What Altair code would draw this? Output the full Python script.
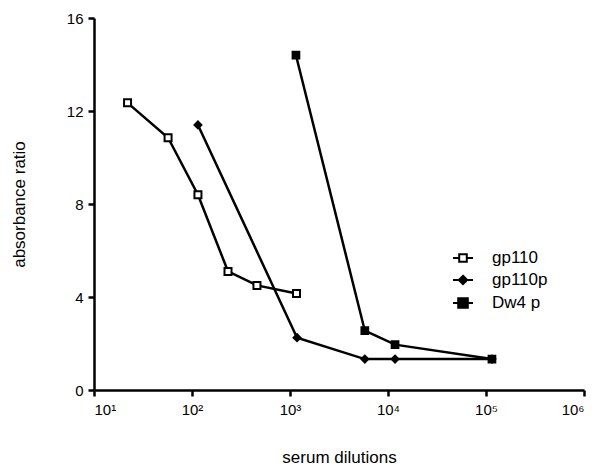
import altair as alt
import pandas as pd

names = ["gp110", "gp110p", "Dw4 p"]

gp110_x = [22, 57, 115, 233, 460, 1165]
gp110_y = [12.35, 10.85, 8.4, 5.1, 4.5, 4.15]

gp110p_x = [115, 1180, 5800, 11800, 115000]
gp110p_y = [11.4, 2.25, 1.33, 1.33, 1.33]

dw4_x = [1150, 5800, 11800, 115000]
dw4_y = [14.4, 2.55, 1.95, 1.33]

x_ticks = [10, 100, 1000, 10000, 100000, 1000000]
y_ticks = [0, 4, 8, 12, 16]

rows = []
for name, xs, ys in [(names[0], gp110_x, gp110_y), (names[1], gp110p_x, gp110p_y), (names[2], dw4_x, dw4_y)]:
    for xv, yv in zip(xs, ys):
        rows.append({"series": name, "dilution": xv, "ratio": yv})
df = pd.DataFrame(rows)

FONT = "Liberation Sans"

x_enc = alt.X(
    "dilution:Q",
    scale=alt.Scale(type="log", domain=[10, 1000000], nice=False),
    axis=alt.Axis(
        values=x_ticks,
        labelExpr="datum.value == 10 ? '10¹' : datum.value == 100 ? '10²' : datum.value == 1000 ? '10³' : datum.value == 10000 ? '10⁴' : datum.value == 100000 ? '10⁵' : '10⁶'",
        title="serum dilutions",
        titlePadding=32,
        labelPadding=6,
    ),
)
y_enc = alt.Y(
    "ratio:Q",
    scale=alt.Scale(domain=[0, 16], nice=False, zero=True),
    axis=alt.Axis(values=y_ticks, title="absorbance ratio", titlePadding=38, labelPadding=5),
)

lines = alt.Chart(df).mark_line(color="black", strokeWidth=2.5).encode(
    x=x_enc, y=y_enc, detail="series:N", order="dilution:Q"
)

points = alt.Chart(df).mark_point(filled=True, stroke="black", strokeWidth=2, opacity=1).encode(
    x=x_enc,
    y=y_enc,
    shape=alt.Shape("series:N", scale=alt.Scale(domain=names, range=["square", "diamond", "square"]), legend=None),
    fill=alt.Fill("series:N", scale=alt.Scale(domain=names, range=["white", "black", "black"]), legend=None),
    size=alt.Size("series:N", scale=alt.Scale(domain=names, range=[49, 45, 90]), legend=None),
)

legend_paths = [
    "M-1,0H-0.38M0.38,0H1M-0.38,-0.38H0.38V0.38H-0.38Z",
    "M-1,0H1M0,-0.42L0.42,0L0,0.42L-0.42,0Z",
    "M-1,0H1M-0.48,-0.48H0.48V0.48H-0.48Z",
]

legend_props = dict(
    title=None,
    orient="none",
    legendX=358,
    legendY=229,
    labelFont=FONT,
    labelFontSize=17,
    labelColor="black",
    labelOffset=18,
    rowPadding=3,
    symbolSize=400,
    symbolStrokeColor="black",
    symbolStrokeWidth=2,
    symbolOpacity=1,
)

legend_layer = alt.Chart(df).mark_point(filled=True, strokeWidth=2, opacity=0).encode(
    x=x_enc,
    y=y_enc,
    shape=alt.Shape("series:N", scale=alt.Scale(domain=names, range=legend_paths), legend=alt.Legend(**legend_props)),
    fill=alt.Fill("series:N", scale=alt.Scale(domain=names, range=["white", "black", "black"]), legend=alt.Legend(**legend_props)),
    stroke=alt.Stroke("series:N", scale=alt.Scale(domain=names, range=["black", "black", "black"]), legend=alt.Legend(**legend_props)),
)

chart = (
    alt.layer(lines, points, legend_layer)
    .resolve_scale(shape="independent", fill="independent", size="independent", stroke="independent")
    .properties(
        width=490,
        height=372,
        background="white",
        autosize=alt.AutoSizeParams(type="none"),
        padding={"left": 86, "top": 10, "right": 5, "bottom": 80},
    )
    .configure_view(stroke=None)
    .configure_axis(
        grid=False,
        domainColor="black",
        domainWidth=2.5,
        tickColor="black",
        tickWidth=2.5,
        tickSize=6,
        labelFont=FONT,
        labelFontSize=15,
        labelColor="black",
        titleFont=FONT,
        titleFontSize=17,
        titleFontWeight="normal",
        titleColor="black",
    )
)

chart.save("out.html", embed_options={"renderer": "svg", "actions": False})
